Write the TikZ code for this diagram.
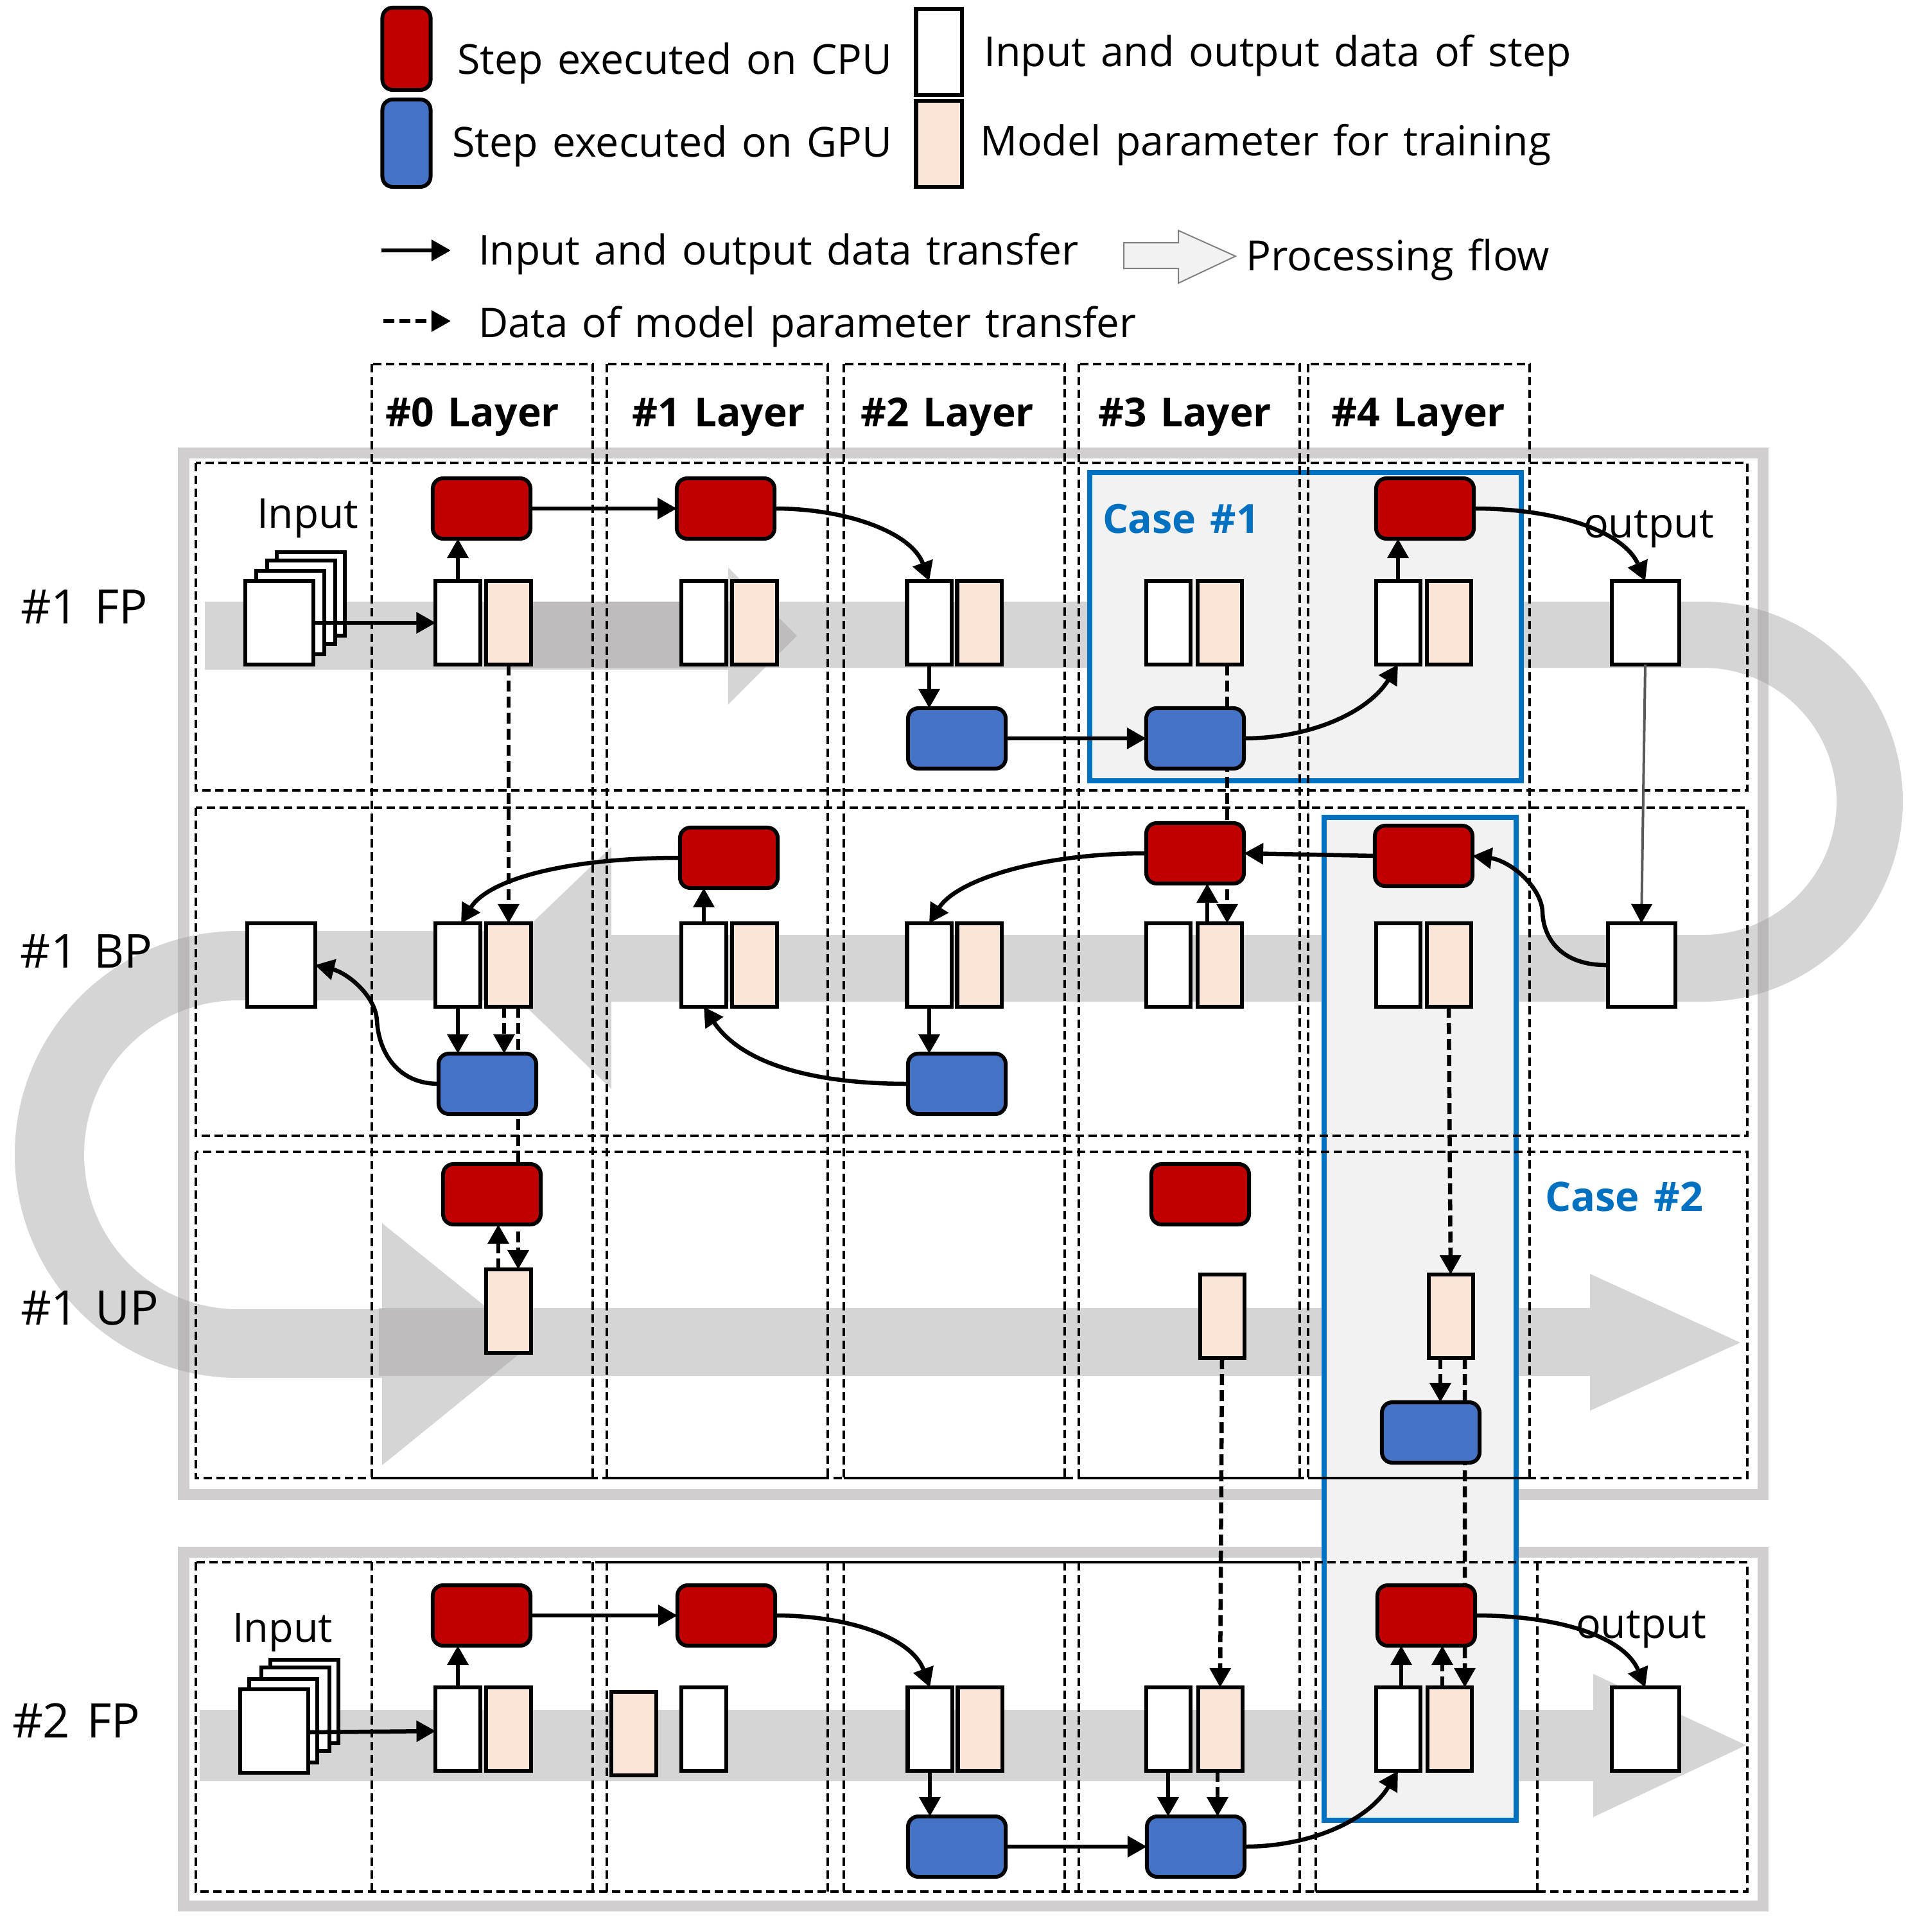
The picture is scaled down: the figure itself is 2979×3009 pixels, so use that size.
\documentclass[tikz,border=0pt]{standalone}
\usepackage{fontspec}
\setmainfont{Open Sans}[WordSpace=1.35]
\usetikzlibrary{arrows.meta}
\definecolor{cpu}{HTML}{C00000}
\definecolor{gpu}{HTML}{4472C4}
\definecolor{param}{HTML}{FBE5D6}
\definecolor{caseblue}{HTML}{0070C0}
\definecolor{casefill}{HTML}{F2F2F2}
\definecolor{frameg}{HTML}{D0CECE}
\definecolor{bandg}{HTML}{9C9A9A}
\pgfdeclarelayer{back}\pgfdeclarelayer{mid}\pgfsetlayers{back,mid,main}
\newcommand{\tx}[2]{\resizebox{#1}{!}{\fontsize{18}{20}\selectfont #2}}
\tikzset{
  box/.style={draw=black,line width=.06cm,inner sep=0,outer sep=0},
  cpustep/.style={box,fill=cpu,rounded corners=.16cm,minimum width=1.52cm,minimum height=.94cm},
  gpustep/.style={box,fill=gpu,rounded corners=.16cm,minimum width=1.52cm,minimum height=.94cm},
  data/.style={box,fill=white,minimum width=.69cm,minimum height=1.3cm},
  par/.style={box,fill=param,minimum width=.69cm,minimum height=1.3cm},
  wide/.style={box,fill=white,minimum width=1.05cm,minimum height=1.3cm},
  lab/.style={anchor=base west,inner sep=0,outer sep=0},
  flow/.style={line width=.065cm,-{Triangle[length=.3cm,width=.32cm]}},
  pflow/.style={flow,dash pattern=on .17cm off .08cm},
  grid/.style={draw=black,line width=.045cm,dash pattern=on .13cm off .07cm},
  solidedge/.style={draw=black,line width=.045cm},
  group/.style={draw=frameg,line width=.17cm},
  band/.style={fill=bandg,fill opacity=.415,draw=none},
  casebox/.style={draw=caseblue,line width=.075cm,fill=casefill},
}
\begin{document}
\begin{tikzpicture}[x=.01cm,y=-.01cm]
\useasboundingbox (0,0) rectangle (2979,3009);

\begin{pgfonlayer}{back}
% group frames
\draw[group] (286,705) rectangle (2745,2327);
\draw[group] (286,2417) rectangle (2745,2968);
% processing flow bands
\path[band] (319,937)--(1134,937)--(1134,884)--(1241,990)--(1134,1097)--(1134,1043)--(319,1043)--cycle;
\path[band] (790,937)--(2652,937) .. controls (2824,937) and (2963,1076) .. (2963,1248) .. controls (2963,1420) and (2824,1560) .. (2652,1560)
  --(952,1560)--(952,1696)--(756,1507)--(952,1319)--(952,1456)--(2652,1456)
  .. controls (2767,1456) and (2860,1363) .. (2860,1248) .. controls (2860,1133) and (2767,1040) .. (2652,1040) --(790,1040)--cycle;
\path[band] (800,1450)--(371,1450) .. controls (179,1450) and (23,1606) .. (23,1798) .. controls (23,1990) and (179,2146) .. (371,2146)
  --(595,2146)--(595,2282)--(828,2093)--(595,1905)--(595,2039)--(371,2039)
  .. controls (238,2039) and (131,1932) .. (131,1798) .. controls (131,1665) and (238,1558) .. (371,1558) --(800,1558)--cycle;
\path[band] (590,2037)--(2476,2037)--(2476,1984)--(2710,2091)--(2476,2197)--(2476,2143)--(590,2143)--cycle;
\path[band] (311,2663)--(2481,2663)--(2481,2607)--(2719,2718)--(2481,2830)--(2481,2774)--(311,2774)--cycle;
% case regions
\draw[casebox] (1697,736) rectangle (2369,1216);
\draw[casebox] (2062,1273) rectangle (2361,2835);
% rows
\draw[grid] (305,721) rectangle (2721,1231);
\draw[grid] (305,1258) rectangle (2721,1769);
\draw[grid] (305,1794) rectangle (2721,2302);
\draw[grid] (305,2433) rectangle (2721,2946);
% layer columns
\draw[grid] (579,567) rectangle (923,2302);
\draw[grid] (945,567) rectangle (1289,2302);
\draw[grid] (1314,567) rectangle (1658,2302);
\draw[grid] (1680,567) rectangle (2024,2302);
\draw[grid] (2037,567) rectangle (2382,2302);
\draw[grid] (579,2433)--(579,2946) (923,2433)--(923,2946);
\draw[grid] (945,2433)--(945,2946) (1289,2433)--(1289,2946);
\draw[grid] (1314,2433)--(1314,2946) (1658,2433)--(1658,2946);
\draw[grid] (1680,2433)--(1680,2946) (2024,2433)--(2024,2946);
\draw[grid] (2049,2433)--(2049,2946) (2394,2433)--(2394,2946);
\draw[solidedge] (579,2302)--(923,2302) (945,2302)--(1289,2302) (1314,2302)--(1658,2302) (1680,2302)--(2024,2302) (2037,2302)--(2382,2302);
\draw[solidedge] (935,2433)--(2024,2433) (2049,2946)--(2394,2946);
\end{pgfonlayer}

% legend
\node[cpustep,minimum width=.75cm,minimum height=1.28cm] (legcpu) at (633,76) {};
\node[gpustep,minimum width=.75cm,minimum height=1.36cm] (leggpu) at (633,223) {};
\node[data,minimum width=.71cm,minimum height=1.33cm] (legdata) at (1462,81) {};
\node[par,minimum width=.71cm,minimum height=1.33cm] (legpar) at (1462,224) {};
\node[lab] (tcpu) at (712,116) {\tx{6.77cm}{Step executed on CPU}};
\node[lab] (tgpu) at (704,245) {\tx{6.85cm}{Step executed on GPU}};
\node[lab] (tdata) at (1532,104) {\tx{9.14cm}{Input and output data of step}};
\node[lab] (tpar) at (1526,243) {\tx{8.89cm}{Model parameter for training}};
\coordinate (lega) at (594,390); \coordinate (legb) at (702,390);
\coordinate (legc) at (597,500); \coordinate (legd) at (702,500);
\draw[flow] (lega)--(legb);
\draw[pflow] (legc)--(legd);
\node[lab] (tio) at (745,412) {\tx{9.34cm}{Input and output data transfer}};
\node[lab] (tmp) at (745,525) {\tx{10.24cm}{Data of model parameter transfer}};
\path[draw=black!50,line width=.02cm,fill=casefill] (1750,378)--(1835,378)--(1835,359)--(1924,399)--(1835,441)--(1835,418)--(1750,418)--cycle;
\node[lab] (tflow) at (1940,421) {\tx{4.73cm}{Processing flow}};

% headers
\node[lab] (h0) at (600,664) {\tx{2.71cm}{\bfseries \#0 Layer}};
\node[lab] (h1) at (984,664) {\tx{2.70cm}{\bfseries \#1 Layer}};
\node[lab] (h2) at (1340,664) {\tx{2.70cm}{\bfseries \#2 Layer}};
\node[lab] (h3) at (1710,664) {\tx{2.70cm}{\bfseries \#3 Layer}};
\node[lab] (h4) at (2073,664) {\tx{2.71cm}{\bfseries \#4 Layer}};
% row labels
\node[lab] (fp1) at (32,971) {\tx{1.98cm}{\#1 FP}};
\node[lab] (bp1) at (32,1507) {\tx{2.05cm}{\#1 BP}};
\node[lab] (up1) at (32,2063) {\tx{2.15cm}{\#1 UP}};
\node[lab] (fp2) at (19,2706) {\tx{1.99cm}{\#2 FP}};
\node[lab] (inA) at (400,822) {\tx{1.58cm}{Input}};
\node[lab] (inB) at (362,2557) {\tx{1.56cm}{Input}};
\node[lab] (outA) at (2466,837) {\tx{2.03cm}{output}};
\node[lab] (outB) at (2454,2551) {\tx{2.03cm}{output}};
\node[lab,text=caseblue] (c1) at (1717,830) {\tx{2.44cm}{\bfseries Case \#1}};
\node[lab,text=caseblue] (c2) at (2406,1886) {\tx{2.46cm}{\bfseries Case \#2}};

% row 1
\node[data,minimum width=1.05cm] (s14) at (484,925) {};
\node[data,minimum width=1.05cm] (s13) at (469,938) {};
\node[data,minimum width=1.05cm] (s12) at (452,954) {};
\node[wide] (s11) at (435,970) {};
\node[cpustep] (r0a) at (750,792) {};
\node[cpustep] (r1a) at (1130,792) {};
\node[cpustep] (r4a) at (2219,792) {};
\node[data] (d0a) at (713,970) {}; \node[par] (p0a) at (792,970) {};
\node[data] (d1a) at (1096,970) {}; \node[par] (p1a) at (1175,970) {};
\node[data] (d2a) at (1447,970) {}; \node[par] (p2a) at (1525,970) {};
\node[data] (d3a) at (1819,970) {}; \node[par] (p3a) at (1899,970) {};
\node[data] (d4a) at (2177,970) {}; \node[par] (p4a) at (2256,970) {};
\node[wide] (oa) at (2562,970) {};
\node[gpustep] (b2a) at (1490,1150) {};
\node[gpustep] (b3a) at (1861,1150) {};
% row 2
\node[wide] (lb) at (438,1503) {};
\node[cpustep] (r1b) at (1135,1336) {};
\node[cpustep] (r3b) at (1861,1329) {};
\node[cpustep] (r4b) at (2217,1333) {};
\node[data] (d0b) at (713,1503) {}; \node[par] (p0b) at (792,1503) {};
\node[data] (d1b) at (1096,1503) {}; \node[par] (p1b) at (1175,1503) {};
\node[data] (d2b) at (1447,1503) {}; \node[par] (p2b) at (1525,1503) {};
\node[data] (d3b) at (1819,1503) {}; \node[par] (p3b) at (1899,1503) {};
\node[data] (d4b) at (2177,1503) {}; \node[par] (p4b) at (2256,1503) {};
\node[wide] (ob) at (2556,1503) {};
\node[gpustep] (b0b) at (759,1688) {};
\node[gpustep] (b2b) at (1490,1688) {};
% row 3
\node[cpustep] (r0c) at (766,1860) {};
\node[cpustep] (r3c) at (1869,1860) {};
\node[par] (p0c) at (792,2042) {};
\node[par] (p3c) at (1903,2050) {};
\node[par] (p4c) at (2259,2050) {};
\node[gpustep] (b4c) at (2228,2231) {};
% row 4
\node[data,minimum width=1.05cm] (s24) at (474,2650) {};
\node[data,minimum width=1.05cm] (s23) at (460,2662) {};
\node[data,minimum width=1.05cm] (s22) at (441,2680) {};
\node[wide] (s21) at (427,2696) {};
\node[cpustep] (r0d) at (750,2516) {};
\node[cpustep] (r1d) at (1131,2516) {};
\node[cpustep] (r4d) at (2221,2516) {};
\node[data] (d0d) at (713,2693) {}; \node[par] (p0d) at (792,2693) {};
\node[par] (p1d) at (987,2700) {}; \node[data] (d1d) at (1096,2693) {};
\node[data] (d2d) at (1448,2693) {}; \node[par] (p2d) at (1526,2693) {};
\node[data] (d3d) at (1819,2693) {}; \node[par] (p3d) at (1900,2693) {};
\node[data] (d4d) at (2177,2693) {}; \node[par] (p4d) at (2257,2693) {};
\node[wide] (od) at (2562,2693) {};
\node[gpustep] (b2d) at (1490,2876) {};
\node[gpustep] (b3d) at (1862,2876) {};

% connectors passing behind steps
\begin{pgfonlayer}{mid}
\draw[pflow] ([xshift=.12cm]p3a.south)--([xshift=.12cm]p3b.north);
\draw[pflow] ([xshift=.15cm]p0b.south)--([xshift=.15cm]p0c.north);
\draw[pflow] ([xshift=.22cm]p4c.south)--([xshift=.24cm]p4d.north);
\end{pgfonlayer}

% row 1 connectors
\draw[flow] (s11.east)--(d0a.west);
\draw[flow] (d0a.north)--(d0a.north|-r0a.south);
\draw[flow] (r0a.east)--(r1a.west);
\draw[flow] (r1a.east) .. controls (1320,792) and (1420,830) .. (d2a.north);
\draw[flow] (d2a.south)--(d2a.south|-b2a.north);
\draw[flow] (b2a.east)--(b3a.west);
\draw[flow] (b3a.east) .. controls (2040,1150) and (2130,1110) .. (d4a.south);
\draw[flow] (d4a.north)--(d4a.north|-r4a.south);
\draw[flow] (r4a.east) .. controls (2430,792) and (2530,830) .. (oa.north);
\draw[pflow] (p0a.south)--(p0b.north);
\draw[line width=.04cm,draw=black!65,-{Triangle[length=.3cm,width=.32cm,fill=black,color=black]}] (oa.south)--(ob.north);
% row 2 connectors
\draw[flow] (ob.west) .. controls (2430,1504) and (2403,1460) .. (2402,1420) .. controls (2400,1380) and (2350,1340) .. (r4b.east);
\draw[flow] (r4b.west)--(r3b.east);
\draw[flow] (r3b.west) .. controls (1620,1329) and (1490,1370) .. (d2b.north);
\draw[flow] (r1b.west) .. controls (880,1336) and (760,1370) .. ([xshift=.05cm]d0b.north);
\draw[flow] (d1b.north)--(d1b.north|-r1b.south);
\draw[flow] ([xshift=-.19cm]p3b.north)--([xshift=-.19cm]p3b.north|-r3b.south);
\draw[flow] (d2b.south)--(d2b.south|-b2b.north);
\draw[flow] (b2b.west) .. controls (1250,1688) and (1150,1650) .. (d1b.south);
\draw[flow] (d0b.south)--(d0b.south|-b0b.north);
\draw[pflow] ([xshift=-.07cm]p0b.south)--([xshift=-.07cm]p0b.south|-b0b.north);
\draw[flow] (b0b.west) .. controls (620,1688) and (590,1640) .. (587,1590) .. controls (585,1550) and (540,1515) .. (lb.east);
% row 3 connectors
\draw[pflow] ([xshift=-.16cm]p0c.north)--([xshift=-.16cm]p0c.north|-r0c.south);
\draw[pflow] (p4b.south)--(p4c.north);
\draw[pflow] ([xshift=-.16cm]p4c.south)--([xshift=-.16cm]p4c.south|-b4c.north);
\draw[pflow] (p3c.south)--(p3d.north);
% row 4 connectors
\draw[flow] ([yshift=-.02cm]s21.east)--(d0d.west|-s21.east);
\draw[flow] (d0d.north)--(d0d.north|-r0d.south);
\draw[flow] (r0d.east)--(r1d.west);
\draw[flow] (r1d.east) .. controls (1320,2516) and (1420,2550) .. (d2d.north);
\draw[flow] (d2d.south)--(d2d.south|-b2d.north);
\draw[flow] (b2d.east)--(b3d.west);
\draw[flow] (d3d.south)--(d3d.south|-b3d.north);
\draw[pflow] ([xshift=-.04cm]p3d.south)--([xshift=-.04cm]p3d.south|-b3d.north);
\draw[flow] (b3d.east) .. controls (2040,2876) and (2130,2836) .. (d4d.south);
\draw[flow] ([xshift=.05cm]d4d.north)--([xshift=.05cm]d4d.north|-r4d.south);
\draw[pflow] ([xshift=-.11cm]p4d.north)--([xshift=-.11cm]p4d.north|-r4d.south);
\draw[flow] (r4d.east) .. controls (2430,2516) and (2530,2550) .. (od.north);
\end{tikzpicture}
\end{document}
